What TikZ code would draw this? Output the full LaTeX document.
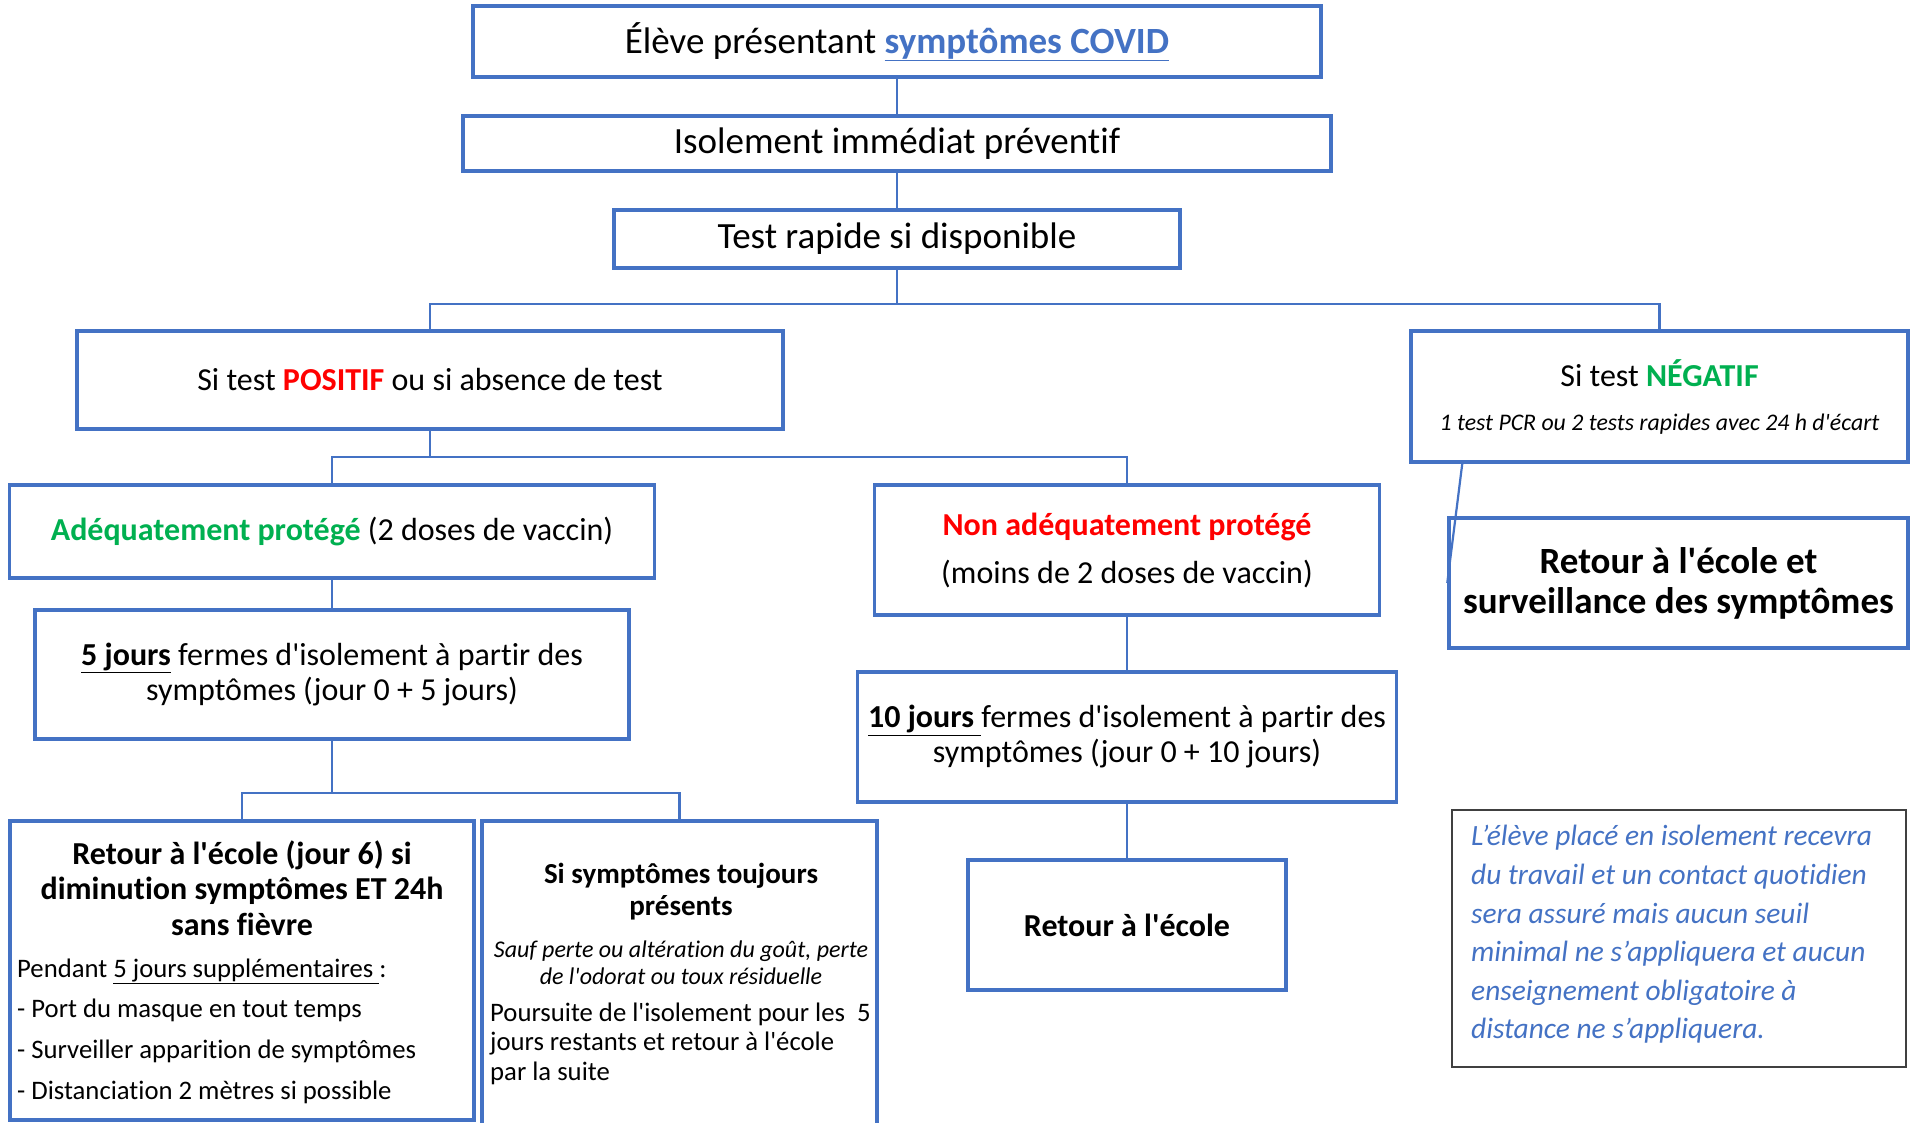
\documentclass[tikz,border=0pt]{standalone}
\usepackage{fontspec}
\setmainfont{Carlito}[Ligatures={TeXOff,CommonOff}]
\usetikzlibrary{calc}
\definecolor{bordblue}{HTML}{4472C4}
\definecolor{okgreen}{HTML}{00B050}
\definecolor{alertred}{HTML}{FF0000}
\definecolor{notegray}{HTML}{404040}
\begin{document}
\begin{tikzpicture}[x=1pt,y=-1pt,
  box/.style={draw=bordblue,line width=3.5pt,rectangle,inner sep=0pt,align=center,font=\fontsize{32}{35}\selectfont},
  bigbox/.style={box,font=\fontsize{37}{40}\selectfont},
  notebox/.style={draw=notegray,line width=2pt,rectangle,inner sep=0pt},
  conn/.style={draw=bordblue,line width=2.2pt},
  txt/.style={inner sep=0pt}]
\path[use as bounding box] (0,0) rectangle (1916,1123);
\clip (0,0) rectangle (1916,1123);
\fill[white] (0,0) rectangle (1916,1123);

% boxes
\node[bigbox,minimum width=848pt,minimum height=71pt] (A) at (897,41.5)
  {Élève présentant {\color{bordblue}\bfseries\underline{symptômes COVID}}};
\node[bigbox,minimum width=868pt,minimum height=55pt] (B) at (897,143.5)
  {Isolement immédiat préventif};
\node[bigbox,minimum width=566pt,minimum height=58pt] (C) at (897,239)
  {Test rapide si disponible};
\node[box,minimum width=706pt,minimum height=98pt] (D) at (430,380)
  {Si test \textcolor{alertred}{\bfseries POSITIF} ou si absence de test};
\node[box,minimum width=497pt,minimum height=131pt] (E) at (1659.5,396.5)
  {Si test \textcolor{okgreen}{\bfseries NÉGATIF}\\[9pt]{\fontsize{23.8}{26}\selectfont\itshape 1 test PCR ou 2 tests rapides avec 24 h d'écart}};
\node[box,minimum width=459pt,minimum height=130pt,font=\fontsize{37}{40}\selectfont\bfseries] (F) at (1678.5,583)
  {Retour à l'école et\\surveillance des symptômes};
\node[box,minimum width=645pt,minimum height=93pt] (G) at (332,531.5)
  {\textcolor{okgreen}{\bfseries Adéquatement protégé} (2 doses de vaccin)};
\node[box,minimum width=505pt,minimum height=130pt] (H) at (1127,550)
  {\textcolor{alertred}{\bfseries Non adéquatement protégé}\\[13pt](moins de 2 doses de vaccin)};
\node[box,minimum width=594pt,minimum height=129pt] (I) at (332,674.5)
  {\underline{\bfseries 5 jours} fermes d'isolement à partir des\\symptômes (jour 0 + 5 jours)};
\node[box,minimum width=539pt,minimum height=130pt] (L) at (1127,737)
  {\underline{\bfseries 10 jours }fermes d'isolement à partir des\\symptômes (jour 0 + 10 jours)};
\node[box,minimum width=318pt,minimum height=130pt,font=\fontsize{32}{35}\selectfont\bfseries] (M) at (1127,925)
  {Retour à l'école};
\node[box,minimum width=464pt,minimum height=299pt] (J) at (242,970.5) {};
\node[box,minimum width=395pt,minimum height=339pt] (K) at (679.5,990.5) {};
\node[notebox,minimum width=454pt,minimum height=257pt] (N) at (1679,938.5) {};

% texts inside J, K, N
\node[txt,align=center,font=\fontsize{32}{35.5}\selectfont\bfseries] (Jt) at (242,888)
  {Retour à l'école (jour 6) si\\diminution symptômes ET 24h\\sans fièvre};
\node[txt,align=left,anchor=west,font=\fontsize{26.7}{40.6}\selectfont] (Jb) at (17,1031)
  {Pendant \underline{5 jours supplémentaires }:\\- Port du masque en tout temps\\- Surveiller apparition de symptômes\\- Distanciation 2 mètres si possible};
\node[txt,align=center,font=\fontsize{29}{32}\selectfont\bfseries] (Kt) at (681,892)
  {Si symptômes toujours\\présents};
\node[txt,align=center,font=\fontsize{24}{27}\selectfont\itshape] (Ki) at (681,962.5)
  {Sauf perte ou altération du goût, perte\\de l'odorat ou toux résiduelle};
\node[txt,align=left,anchor=west,font=\fontsize{26.7}{29.5}\selectfont] (Kb) at (490,1043.5)
  {Poursuite de l'isolement pour les\ \ 5\\jours restants et retour à l'école\\par la suite};
\node[txt,align=left,anchor=west,text=bordblue,font=\fontsize{29.4}{38.6}\selectfont\itshape] (Nt) at (1471,934.5)
  {L’élève placé en isolement recevra\\du travail et un contact quotidien\\sera assuré mais aucun seuil\\minimal ne s’appliquera et aucun\\enseignement obligatoire à\\distance ne s’appliquera.};

% connectors
\coordinate (j1) at (897,304);
\coordinate (j2) at (430,457);
\coordinate (j3) at (332,793);
\draw[conn] (A.south) -- (B.north);
\draw[conn] (B.south) -- (C.north);
\draw[conn] (C.south) -- (j1);
\draw[conn] (D.north) |- (j1) -| (E.north);
\draw[conn] (D.south) -- (j2);
\draw[conn] (G.north) |- (j2) -| (H.north);
\draw[conn] (G.south) -- (I.north);
\draw[conn] (I.south) -- (j3);
\draw[conn] (J.north) |- (j3) -| (K.north);
\draw[conn] (H.south) -- (L.north);
\draw[conn] (L.south) -- (M.north);
\draw[conn] ($(E.south west)+(53,0)$) -- (F.west);
\end{tikzpicture}
\end{document}
